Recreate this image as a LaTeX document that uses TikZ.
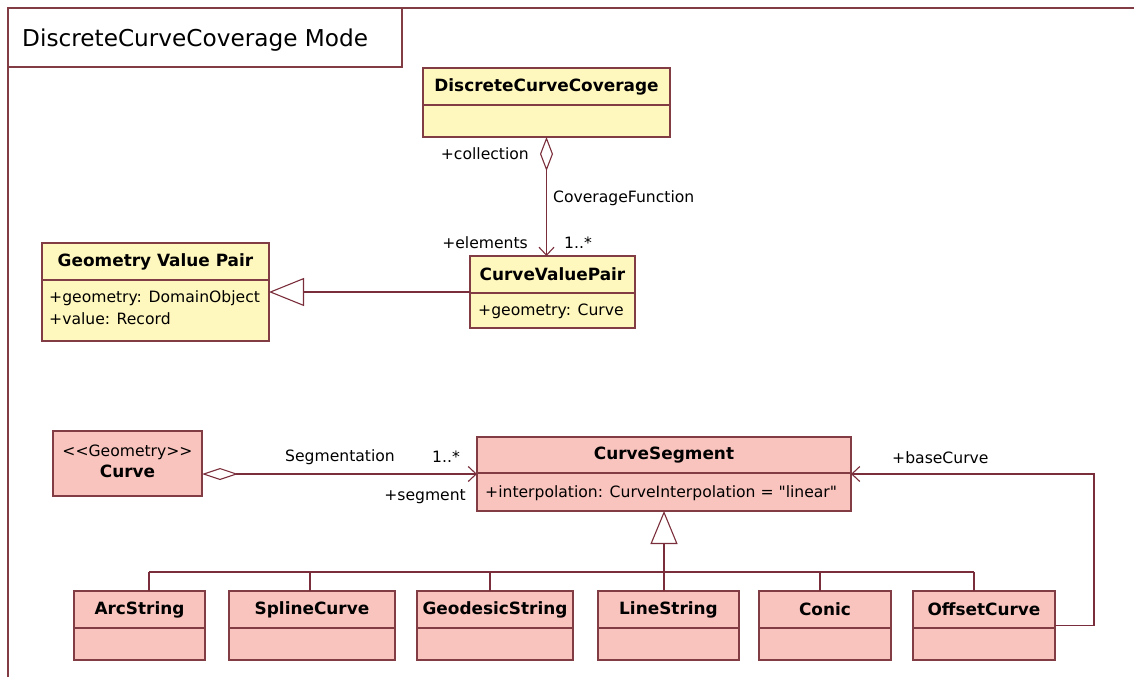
\documentclass[tikz,border=0pt]{standalone}
\usepackage{fontspec}
\setmainfont{DejaVu Sans}
\usetikzlibrary{arrows.meta,calc}
\definecolor{lc}{RGB}{122,45,58}
\definecolor{bc}{RGB}{130,60,68}
\definecolor{yfill}{RGB}{255,248,190}
\definecolor{pfill}{RGB}{249,196,190}
\newcommand\clsfont{\fontsize{15.6}{18}\selectfont}
\newcommand\clsbold{\fontsize{16.9}{19}\selectfont\bfseries}
\newcommand\sq{\XeTeXglyph\XeTeXcharglyph"22\relax}
\newcommand\umlcls[8]{%
  \node[#2,minimum width={#5-#3},minimum height={#6-#4}] (#1) at ({(#3+#5)/2},{(#4+#6)/2}) {};
  \draw[divline] (#3,#7) -- (#5,#7);
  \node[ctitle] (#1-t) at ({(#3+#5)/2},{(#4+#7)/2}) {#8};
}
\begin{document}
\begin{tikzpicture}[x=1pt,y=-1pt,
  ybox/.style={draw=bc,fill=yfill,line width=1.1pt,inner sep=0,outer sep=0},
  pbox/.style={draw=bc,fill=pfill,line width=1.1pt,inner sep=0,outer sep=0},
  divline/.style={draw=bc,line width=1.1pt},
  ctitle/.style={font=\clsbold,inner sep=0},
  ctext/.style={font=\clsfont,inner sep=0,anchor=west},
  lbl/.style={font=\clsfont,inner sep=0},
  conn/.style={draw=lc,line width=1.1pt},
  frame/.style={draw=bc,line width=1.2pt},
  barbtip/.tip={Straight Barb[length=8pt,width=15pt]}
]
\useasboundingbox (0,0) rectangle (1134,677);
% frame and tab
\draw[frame] (8,677) -- (8,8) -- (1134,8);
\node[draw=bc,line width=1.1pt,fill=white,minimum width=394,minimum height=59,inner sep=0,outer sep=0] (tab) at (205,37.5) {};
\node[font=\fontsize{23.2}{27}\selectfont,anchor=west,inner sep=0] (tabt) at (22,40) {DiscreteCurveCoverage Mode};

% upper classes
\umlcls{dcc}{ybox}{423}{68}{670}{137}{105}{DiscreteCurveCoverage}
\umlcls{cvp}{ybox}{470}{256}{635}{328}{293}{CurveValuePair}
\node[ctext] (cvp-a) at (478,311) {+geometry: Curve};
\umlcls{gvp}{ybox}{42}{243}{269}{341}{280}{Geometry Value Pair}
\node[ctext] (gvp-a1) at (49,298) {+geometry: DomainObject};
\node[ctext] (gvp-a2) at (49,319) {+value: Record};

% Curve
\node[pbox,minimum width=149,minimum height=65] (curve) at (127.5,463.5) {};
\node[lbl] (curve-s) at (127.5,452) {<\kern0pt<Geometry>\kern0pt>};
\node[ctitle] (curve-t) at (127.5,471) {Curve};

% CurveSegment
\umlcls{cseg}{pbox}{477}{437}{851}{511}{473}{CurveSegment}
\node[ctext] (cseg-a) at (485,493) {+interpolation: CurveInterpolation = \sq linear\sq};

% bottom row
\umlcls{arc}{pbox}{74}{591}{205}{660}{628}{ArcString}
\umlcls{spline}{pbox}{229}{591}{395}{660}{628}{SplineCurve}
\umlcls{geod}{pbox}{417}{591}{573}{660}{628}{GeodesicString}
\umlcls{line}{pbox}{598}{591}{739}{660}{628}{LineString}
\umlcls{conic}{pbox}{759}{591}{891}{660}{628}{Conic}
\umlcls{off}{pbox}{913}{591}{1055}{660}{628}{OffsetCurve}

% connectors
\draw[conn,{Diamond[open,length=34pt,width=13pt]}-barbtip] (dcc.south) -- (dcc.south |- cvp.north);
\draw[conn,-{Triangle[open,length=35pt,width=28pt]}] (cvp.west |- gvp.east) -- (gvp.east);
\draw[conn,{Diamond[open,length=36pt,width=12pt]}-barbtip] (curve.east |- cseg.west) -- (cseg.west);
\draw[conn,-barbtip] (off.east) -- ++(39,0) |- (cseg.east);
\draw[conn,-{Triangle[open,length=33pt,width=27pt]}] (cseg.south |- line.north) -- (cseg.south);
\coordinate (jA) at (149,572);
\coordinate (jB) at (310,572);
\coordinate (jC) at (490,572);
\coordinate (jE) at (820,572);
\coordinate (jF) at (974,572);
\draw[conn] (jA) -- (jF);
\draw[conn] (jA) -- (jA |- arc.north);
\draw[conn] (jB) -- (jB |- spline.north);
\draw[conn] (jC) -- (jC |- geod.north);
\draw[conn] (jE) -- (jE |- conic.north);
\draw[conn] (jF) -- (jF |- off.north);

% labels
\node[lbl,anchor=east] (l1) at (529,154) {+collection};
\node[lbl,anchor=west] (l2) at (553,198) {CoverageFunction};
\node[lbl,anchor=east] (l3) at (528,243) {+elements};
\node[lbl,anchor=west] (l4) at (564,243) {1..*};
\node[lbl,anchor=west] (l5) at (285,457) {Segmentation};
\node[lbl,anchor=west] (l6) at (432,457) {1..*};
\node[lbl,anchor=east] (l7) at (466,497) {+segment};
\node[lbl,anchor=west] (l8) at (892,458) {+baseCurve};
\end{tikzpicture}
\end{document}
